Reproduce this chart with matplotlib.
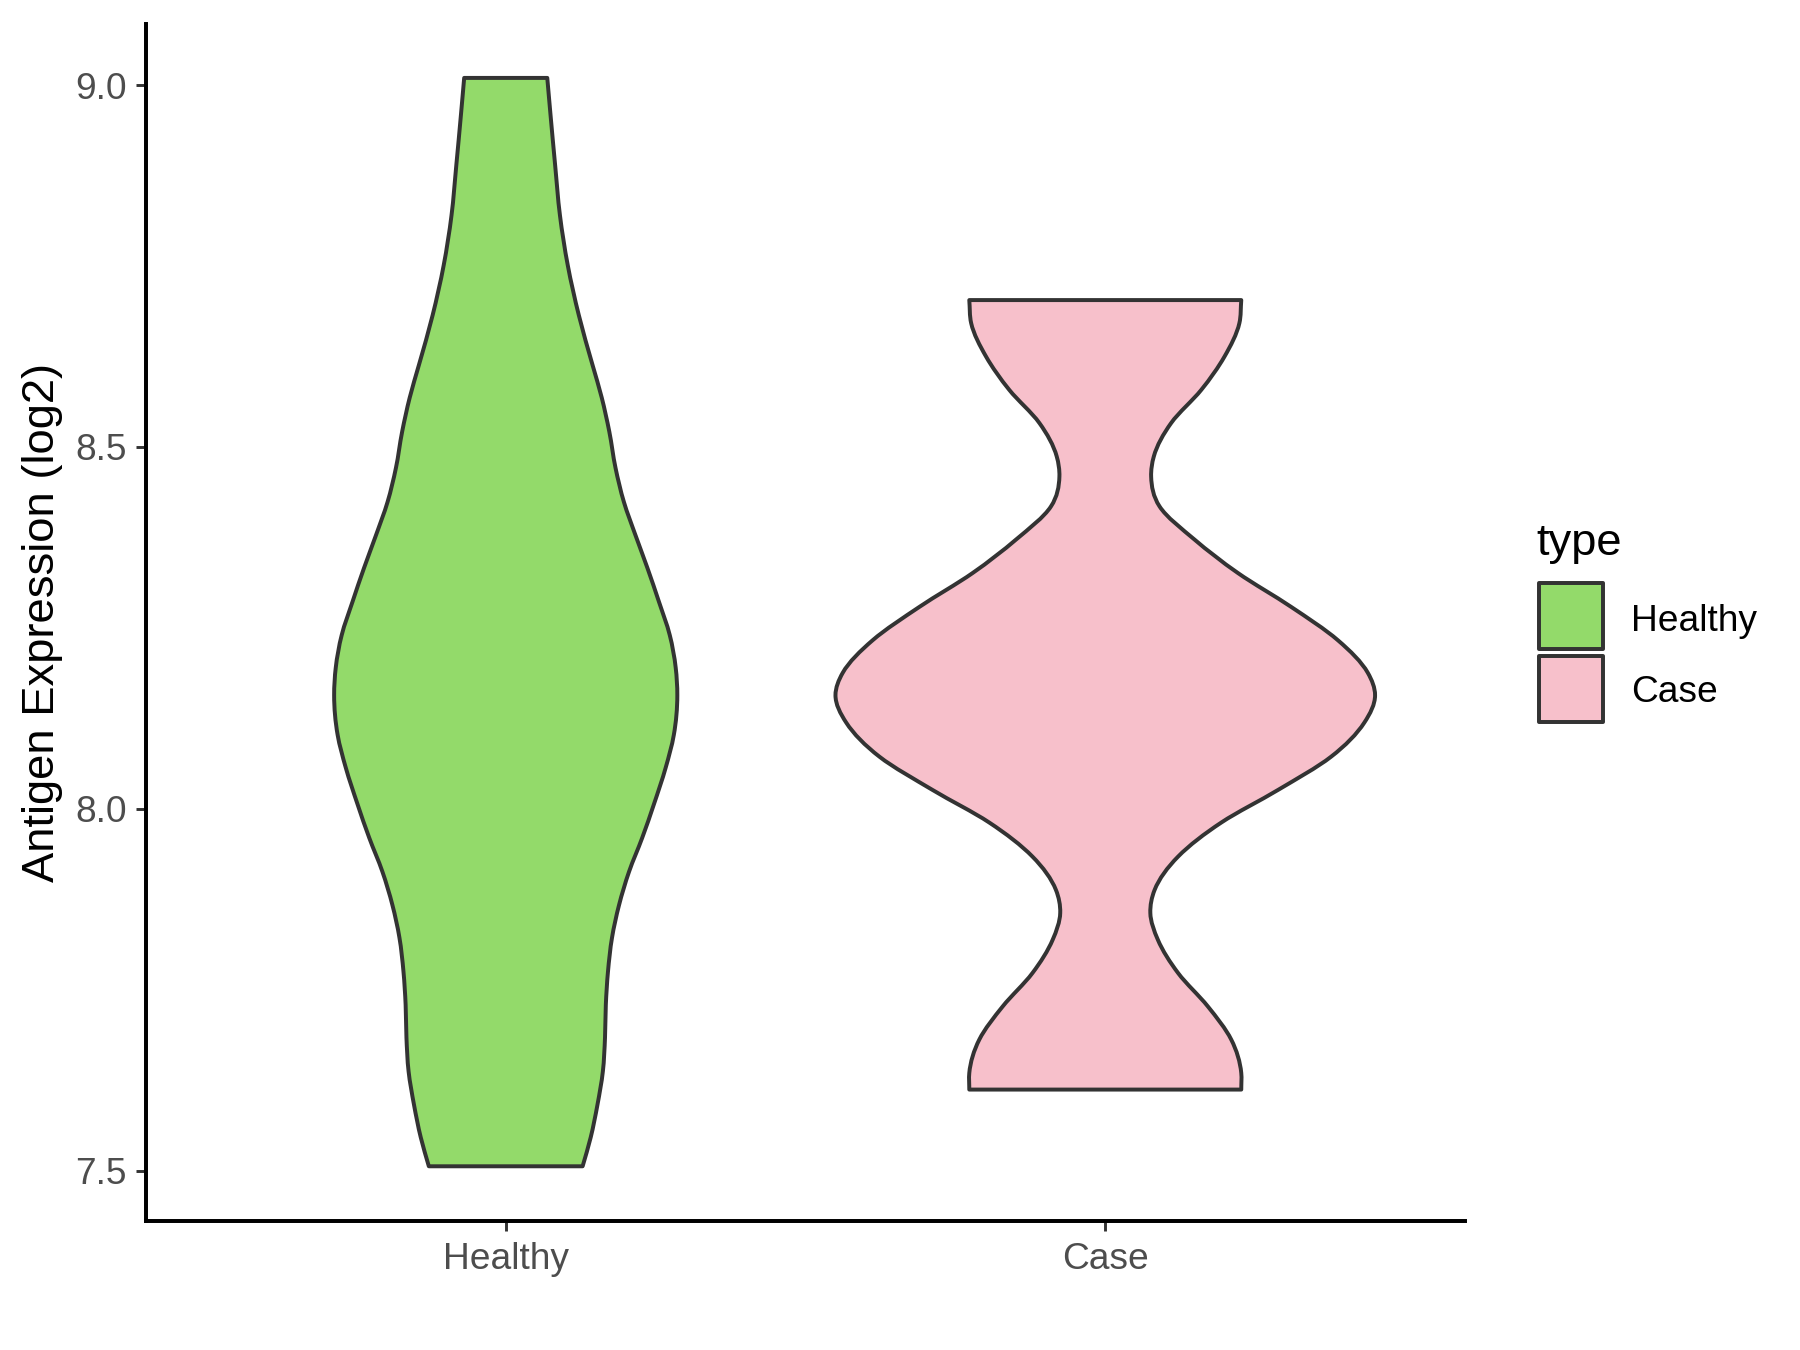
import numpy as np
import matplotlib
matplotlib.use("Agg")
import matplotlib.pyplot as plt
from matplotlib.path import Path
from matplotlib.patches import PathPatch, Rectangle

plt.rcParams['font.family'] = ['Liberation Sans', 'DejaVu Sans']

# ---------------- data ----------------
categories = ["Healthy", "Case"]
fill_colors = ["#93DA6A", "#F7C0CB"]

# violin outlines: expression level and relative density (Case max = 1)
healthy_y = [7.506, 7.546, 7.591, 7.637, 7.684, 7.729, 7.775, 7.822, 7.867,
             7.913, 7.960, 8.006, 8.057, 8.102, 8.157, 8.195, 8.240, 8.286,
             8.333, 8.378, 8.424, 8.471, 8.521, 8.568, 8.613, 8.682, 8.751,
             8.820, 8.890, 8.959, 9.010]
healthy_density = [0.285, 0.315, 0.340, 0.360, 0.368, 0.371, 0.379, 0.394, 0.420,
                   0.457, 0.506, 0.549, 0.593, 0.623, 0.636, 0.630, 0.608, 0.568,
                   0.525, 0.481, 0.438, 0.407, 0.384, 0.356, 0.322, 0.271, 0.230,
                   0.201, 0.183, 0.166, 0.154]

case_y = [7.612, 7.635, 7.681, 7.727, 7.773, 7.819, 7.856, 7.888, 7.934,
          7.981, 8.026, 8.072, 8.119, 8.157, 8.188, 8.233, 8.279, 8.326,
          8.372, 8.418, 8.459, 8.487, 8.533, 8.579, 8.625, 8.671, 8.703]
case_density = [0.504, 0.504, 0.467, 0.380, 0.270, 0.195, 0.167, 0.183, 0.270,
                0.430, 0.640, 0.837, 0.960, 1.000, 0.973, 0.862, 0.689, 0.491,
                0.331, 0.201, 0.170, 0.180, 0.244, 0.356, 0.442, 0.497, 0.504]

y_ticks = [7.5, 8.0, 8.5, 9.0]
y_label = "Antigen Expression (log2)"
legend_title = "type"

profiles_y = [healthy_y, case_y]
profiles_d = [healthy_density, case_density]

# ---------------- styling ----------------
OUTLINE = "#333333"
HALF_WIDTH = 0.45
LW = 1.9
TICK_FS = 17.8
TITLE_FS = 21.8


def hermite_bezier(ys, xs):
    """Bezier (CURVE4) vertices for a smooth curve x(y) through the points,
    using non-uniform Hermite tangents."""
    ys = np.asarray(ys, float)
    xs = np.asarray(xs, float)
    n = len(ys)
    h = np.diff(ys)
    s = np.diff(xs) / h
    m = np.empty(n)
    m[0] = s[0]
    m[-1] = s[-1]
    for i in range(1, n - 1):
        m[i] = (h[i] * s[i - 1] + h[i - 1] * s[i]) / (h[i - 1] + h[i])
    verts = []
    for i in range(n - 1):
        c1 = (xs[i] + m[i] * h[i] / 3.0, ys[i] + h[i] / 3.0)
        c2 = (xs[i + 1] - m[i + 1] * h[i] / 3.0, ys[i + 1] - h[i] / 3.0)
        verts.extend([c1, c2, (xs[i + 1], ys[i + 1])])
    return verts


def reverse_bezier(start, verts):
    """Reverse a CURVE4 vertex chain that begins at `start`."""
    pts = [start] + list(verts)
    pts = pts[::-1]
    return pts[0], pts[1:]


def violin_path(center, ys, dens, scale):
    ys = np.asarray(ys, float)
    d = np.asarray(dens, float) * scale
    right = hermite_bezier(ys, center + d)
    left = hermite_bezier(ys, center - d)
    left_start, left_rev = reverse_bezier((center - d[0], ys[0]), left)
    verts = [(center - d[0], ys[0]), (center + d[0], ys[0])]
    codes = [Path.MOVETO, Path.LINETO]
    verts += right
    codes += [Path.CURVE4] * len(right)
    verts.append(left_start)
    codes.append(Path.LINETO)
    verts += left_rev
    codes += [Path.CURVE4] * len(left_rev)
    verts.append((center - d[0], ys[0]))
    codes.append(Path.CLOSEPOLY)
    return Path(np.array(verts), codes)


W, H = 1800, 1350
fig = plt.figure(figsize=(12, 9), dpi=150)
ax = fig.add_axes([146 / W, 1 - 1220.7 / H, (1465 - 146) / W, (1220.7 - 23.5) / H])

for i, cat in enumerate(categories):
    p = violin_path(i + 1, profiles_y[i], profiles_d[i], HALF_WIDTH)
    ax.add_patch(PathPatch(p, facecolor=fill_colors[i], edgecolor=OUTLINE,
                           lw=LW, joinstyle='round', zorder=2))

all_y = np.concatenate([healthy_y, case_y])
rng = all_y.max() - all_y.min()
ax.set_ylim(all_y.min() - 0.05 * rng, all_y.max() + 0.05 * rng)
ax.set_xlim(0.4, len(categories) + 0.6)

ax.set_xticks(range(1, len(categories) + 1))
ax.set_xticklabels(categories)
ax.set_yticks(y_ticks)
ax.set_yticklabels([f"{v:.1f}" for v in y_ticks])

for s in ["top", "right"]:
    ax.spines[s].set_visible(False)
for s in ["left", "bottom"]:
    ax.spines[s].set_linewidth(1.9)
    ax.spines[s].set_color("black")
    ax.spines[s].set_capstyle('projecting')

ax.tick_params(axis='both', length=4.8, width=1.4, color=OUTLINE,
               labelsize=TICK_FS, labelcolor="#4D4D4D", pad=4.5)
ax.tick_params(axis='x', pad=5.5)
ax.set_ylabel(y_label, fontsize=TITLE_FS, color="black")
ax.yaxis.set_label_coords(-0.063, 0.5)

# ---------------- legend ----------------
fig.text(1536 / W, 1 - 555 / H, legend_title, fontsize=TITLE_FS, color="black",
         ha='left', va='baseline')
key_tops = [583, 656]
key_baselines = [631, 702]
for i, cat in enumerate(categories):
    fig.patches.append(Rectangle((1539 / W, 1 - (key_tops[i] + 66) / H), 64 / W, 66 / H,
                                 transform=fig.transFigure, facecolor=fill_colors[i],
                                 edgecolor=OUTLINE, lw=LW, joinstyle='round'))
    fig.text(1631 / W, 1 - key_baselines[i] / H, cat, fontsize=TICK_FS, color="black",
             ha='left', va='baseline')

fig.savefig("out.png", dpi=150, facecolor="white")
